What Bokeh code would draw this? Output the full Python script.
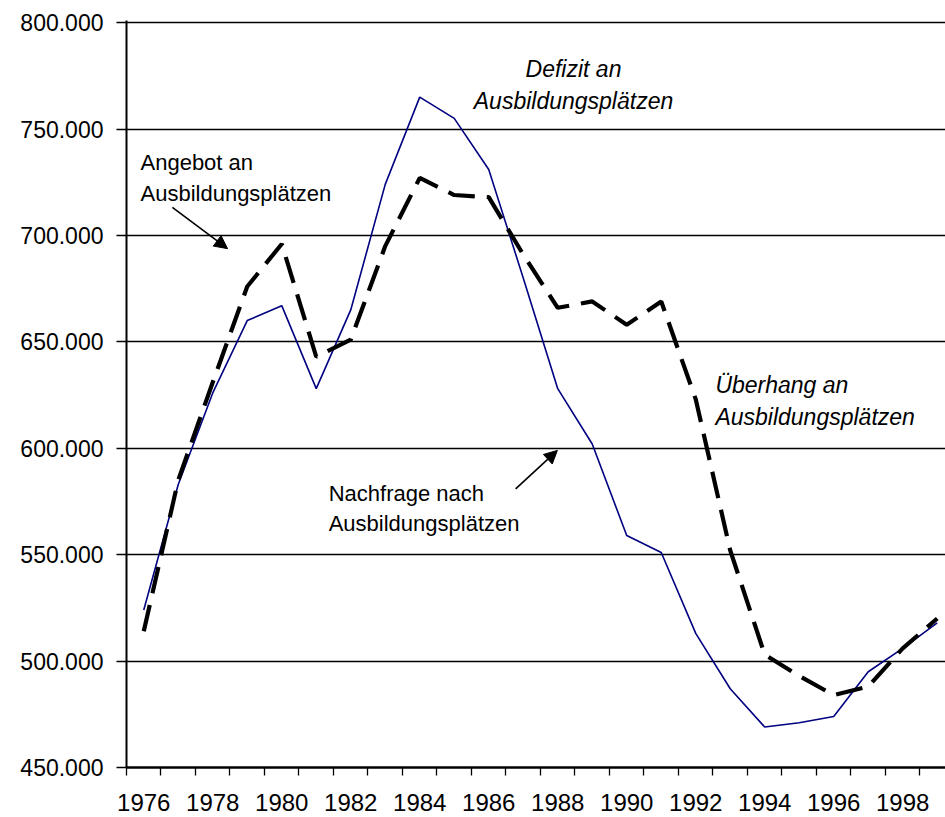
from bokeh.plotting import figure
from bokeh.models import FixedTicker, Range1d, Label, Arrow, NormalHead, ColumnDataSource
from bokeh.embed import file_html
from bokeh.resources import INLINE

# ---- data ----
years = list(range(1976, 2000))
nachfrage = [524, 583, 626, 660, 667, 628, 665, 724, 765, 755, 731, 680,
             628, 602, 559, 551, 513, 487, 469, 471, 474, 495, 506, 518]
angebot = [514, 585, 631, 676, 696, 643, 651, 695, 727, 719, 718, 691,
           666, 669, 658, 669, 623, 552, 503, 493, 484, 488, 506, 520]
y_ticks = [450000, 500000, 550000, 600000, 650000, 700000, 750000, 800000]
y_tick_labels = ["450.000", "500.000", "550.000", "600.000",
                 "650.000", "700.000", "750.000", "800.000"]
x_tick_years = [1976, 1978, 1980, 1982, 1984, 1986, 1988, 1990, 1992, 1994, 1996, 1998]

src = ColumnDataSource(dict(
    year=years,
    nachfrage=[v * 1000 for v in nachfrage],
    angebot=[v * 1000 for v in angebot],
))

FONT = "Liberation Sans"

p = figure(width=945, height=817,
           x_range=Range1d(years[0] - 0.5, 1999.24),
           y_range=Range1d(450000, 801000),
           output_backend="svg", toolbar_location=None,
           min_border_left=126, min_border_right=0,
           min_border_top=20, min_border_bottom=50)
p.outline_line_color = None
p.background_fill_color = "white"
p.border_fill_color = "white"

# grid
p.xgrid.grid_line_color = None
p.ygrid.ticker = FixedTicker(ticks=y_ticks)
p.ygrid.grid_line_color = "black"
p.ygrid.grid_line_width = 1.3

# y axis
ya = p.yaxis[0]
ya.ticker = FixedTicker(ticks=y_ticks)
ya.major_label_overrides = {t: l for t, l in zip(y_ticks, y_tick_labels)}
ya.axis_line_color = "black"
ya.axis_line_width = 2
ya.major_tick_out = 10
ya.major_tick_in = 0
ya.major_tick_line_width = 1.3
ya.minor_tick_line_color = None
ya.major_label_standoff = 13
ya.major_label_text_font = FONT
ya.major_label_text_font_size = "23px"
ya.major_label_text_color = "black"

# x axis (category style: ticks between years)
xa = p.xaxis[0]
boundaries = [y - 0.5 for y in years] + [years[-1] + 0.5]
xa.ticker = FixedTicker(ticks=x_tick_years, minor_ticks=boundaries)
xa.axis_line_color = "black"
xa.axis_line_width = 2.5
xa.major_tick_out = 0
xa.major_tick_in = 0
xa.minor_tick_out = 8
xa.minor_tick_in = 0
xa.minor_tick_line_color = "black"
xa.minor_tick_line_width = 1.3
xa.major_label_standoff = 18
xa.major_label_text_font = FONT
xa.major_label_text_font_size = "24px"
xa.major_label_text_color = "black"

# lines
p.line("year", "nachfrage", source=src, line_color="#000080", line_width=1.6)
p.line("year", "angebot", source=src, line_color="black", line_width=4.2,
       line_dash="27 12")

# annotations
def lab(x, y, text, italic=False, align="left", size="22px"):
    p.add_layout(Label(x=x, y=y, text=text, text_font=FONT,
                       text_font_size=size,
                       text_font_style="italic" if italic else "normal",
                       text_align=align, text_baseline="alphabetic",
                       text_color="black"))

lab(1975.906, 734400, "Angebot an")
lab(1975.906, 719500, "Ausbildungsplätzen")
lab(1988.457, 778400, "Defizit an", italic=True, align="center", size="23px")
lab(1988.457, 763400, "Ausbildungsplätzen", italic=True, align="center", size="23px")
lab(1992.57, 629500, "Überhang an", italic=True, size="23px")
lab(1992.57, 614600, "Ausbildungsplätzen", italic=True, size="23px")
lab(1981.36, 578600, "Nachfrage nach")
lab(1981.36, 564500, "Ausbildungsplätzen")

p.add_layout(Arrow(x_start=1976.83, y_start=713200, x_end=1978.43, y_end=693800,
                   line_color="black", line_width=1.6,
                   end=NormalHead(size=13, fill_color="black", line_color="black")))
p.add_layout(Arrow(x_start=1986.78, y_start=580900, x_end=1987.99, y_end=599000,
                   line_color="black", line_width=1.6,
                   end=NormalHead(size=13, fill_color="black", line_color="black")))

open("out.html", "w").write(file_html(p, INLINE))
